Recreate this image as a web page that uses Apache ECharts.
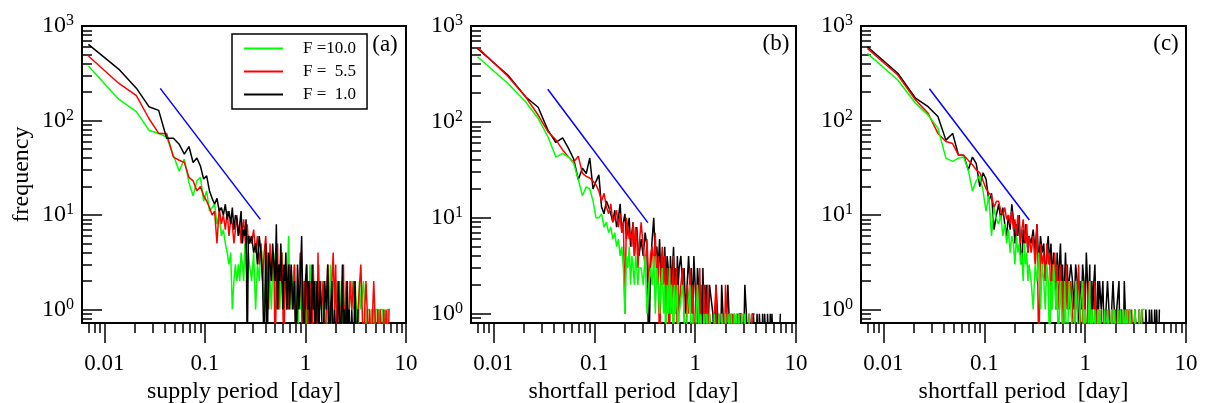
<!DOCTYPE html>
<html><head><meta charset="utf-8">
<script src="https://cdn.jsdelivr.net/npm/echarts@6/dist/echarts.min.js"></script>
<style>html,body{margin:0;padding:0;background:#fff}#c{width:1205px;height:403px}</style>
</head><body><div id="c"></div>
<script>
// ---------------- DATA ----------------
// histogram bins: period in minutes (converted to days for the axis)
const periodMin = [
  10,20,30,40,50,60,70,80,90,100,110,120,130,140,150,160,170,180,190,200,
  210,220,230,240,250,260,270,280,290,300,310,320,330,340,350,360,370,380,390,400,
  420,440,460,480,500,520,540,560,580,600,620,640,660,680,700,720,740,760,780,800,
  820,840,860,880,900,920,940,960,980,1000,
  1040,1080,1120,1160,1200,1240,1280,1320,1360,1400,1440,1480,1520,1560,1600,1640,1680,1720,1760,1800,
  1840,1880,1920,1960,2000,
  2080,2160,2240,2320,2400,2480,2560,2640,2720,2800,2880,2960,3040,3120,3200,3280,3360,3440,3520,3600,
  3680,3760,3840,3920,4000,
  4160,4320,4480,4640,4800,4960,5120,5280,5440,5600,5760,5920,6080,6240,6400,6560,6720,6880,7040,7200,
  7360,7520,7680,7840,8000,8160,8320,8480,8640,8800,8960,9120,9280,9440,9600,9760,9920,10080
];
const seriesNames = ['F =10.0', 'F =  5.5', 'F =  1.0'];

// panel (a) supply period
const greenA = [377,168,124,79,73,67,43,29,39,22,16,23,25,14,18,11,12,13,8,10,6,7,5,4,3,4,1,2,3,2,3,2,4,3,2,5,3,2,4,3,
  2,4,1,3,2,5,3,1,2,4,3,2,1,3,2,4,1,2,3,1,2,4,2,1,3,2,1,3,6,2,
  1,2,3,1,0,2,1,3,1,2,0,1,2,1,3,1,0,2,1,1,2,0,1,3,1,
  2,1,1,0,2,1,3,1,0,1,2,1,1,0,1,2,1,0,1,1,2,1,0,1,1,
  2,1,2,1,0,2,1,1,2,1,0,1,1,1,0,1,1,1,0,1,1,1,1,0,1,1,1,1,0,1,1,1,0,1,1,1,1,1];
const redA = [482,248,183,105,73,73,41,38,36,25,23,18,20,16,14,12,10,11,5,12,8,10,7,11,6,9,8,5,7,10,6,8,5,7,9,6,4,8,5,6,
  5,7,4,6,3,5,2,4,6,3,1,5,2,4,3,0,2,5,1,3,2,4,1,0,2,3,1,2,1,3,
  2,1,3,0,1,2,4,1,0,2,1,3,0,1,2,1,0,3,1,2,1,0,4,1,2,
  1,2,0,1,3,1,0,2,4,1,3,0,1,2,0,1,1,3,0,1,2,1,0,1,2,
  1,2,1,0,1,1,3,1,0,1,2,1,0,1,1,0,1,2,1,1,0,1,1,0,1,1,1,0,1,1,0,1,1,1,0,1,1,1];
const blackA = [640,350,220,140,128,65,65,56,44,53,36,40,33,24,26,18,15,13,15,11,12,10,13,9,11,8,12,7,10,9,6,8,11,5,7,6,9,0,6,5,
  6,4,5,3,6,4,2,0,5,0,4,3,2,5,3,2,8,1,3,2,5,2,1,3,2,4,1,2,3,1,
  3,1,2,0,3,1,2,6,1,0,2,3,1,2,0,1,3,1,2,0,1,2,1,0,2,
  1,0,2,1,3,0,1,2,0,1,1,0,2,1,0,1,3,0,1,0,1,2,0,1,0,
  1,0,2,0,1];

// panel (b) shortfall period
const greenB = [478,253,162,109,70,43,47,43,37,25,17,21,20,15,10,10,11,8,9,7,8,6,7,5,6,4,5,3,1,4,3,5,2,4,3,2,4,3,2,3,
  3,2,4,1,2,3,2,4,1,3,2,1,2,3,1,2,0,2,1,3,1,2,1,0,2,1,1,2,0,1,
  1,2,1,0,1,1,2,0,1,1,0,1,2,1,0,1,1,0,1,1,0,1,1,0,1,
  1,0,1,1,0,1,0,1,1,0,1,1,0,1,0,1,1,0,1,0,1,1,0,1,0,
  1,0,1,1,0,1];
const redB = [600,300,183,118,79,65,51,43,38,44,29,27,26,24,22,19,15,18,13,11,14,9,10,12,8,11,7,9,1,10,8,6,7,5,9,4,8,6,3,5,
  9,5,3,6,2,4,5,3,7,2,4,0,3,5,2,4,1,3,2,0,3,1,2,4,1,2,3,0,2,1,
  2,3,1,0,2,1,3,1,2,0,1,2,1,0,3,1,1,0,2,1,0,1,2,0,1,
  1,0,1,2,0,1,1,0,1,0,2,1,0,1,1,0,1,0,1,1,0,1,0,1,1,
  1,0,1,1,0,1,0,1,1,1];
const blackB = [585,308,183,142,82,61,68,53,41,25,33,29,42,20,24,28,13,11,15,13,11,9,12,8,10,14,7,9,11,6,8,10,5,7,9,4,6,8,5,4,
  6,4,7,5,0,3,6,10,4,5,3,6,2,4,3,5,2,4,3,1,4,2,3,5,2,3,1,4,2,3,
  4,2,3,1,2,4,2,3,1,4,2,1,3,2,1,2,0,3,1,2,1,2,0,1,2,
  2,1,0,2,1,1,0,2,1,1,0,1,2,1,0,1,1,0,1,1,0,1,1,0,1,
  1,0,2,1,0,1,1,0,1,1,0,1,0,1,1,0,1,0,1,1,0,1,1,0,1,0,1,1,0,0,0,0,0,0,0,0,0,1];

// panel (c) shortfall period
const greenC = [514,268,152,114,83,40,37,40,41,30,18,23,26,18,11,16,6,12,9,8,10,6,8,5,7,4,6,5,3,6,4,5,3,4,2,5,3,4,2,3,
  2,1,3,2,4,1,3,2,1,3,2,0,2,1,3,2,1,2,0,1,2,1,1,0,2,1,1,0,1,2,
  1,1,0,2,1,0,1,1,2,0,1,1,0,1,2,0,1,1,0,1,1,0,1,0,1,
  1,0,1,0,1,1,0,1,0,1,1,0,1,0,1,1,0,1,0,1,0,1,1,0,1,
  1,0,1,1,0,1,0,1,1,1];
const redC = [580,303,165,119,73,60,57,43,43,38,34,30,28,23,19,17,16,12,14,14,11,10,12,9,10,8,11,7,9,6,10,8,5,7,9,6,5,8,4,6,
  4,6,3,8,0,5,3,4,2,5,3,4,1,3,2,4,2,3,1,2,3,1,2,0,2,1,3,1,2,1,
  2,1,0,2,1,3,1,0,1,2,1,0,1,2,1,0,1,1,0,2,1,0,1,1,0,
  1,0,1,1,0,1,0,1,1,0,1,0,1,1,0,1,0,1,1,0,1,1,0,1,0,
  1,0,1,1,0,1,0,1];
const blackC = [604,316,172,140,110,62,73,43,43,30,41,35,20,28,24,14,17,7,10,13,9,12,8,6,10,7,13,9,5,8,6,10,4,3,7,5,8,6,4,6,
  5,7,4,8,3,6,4,5,2,4,6,3,5,2,4,3,1,4,2,3,5,2,3,1,2,4,2,3,1,2,
  3,2,1,3,2,0,2,1,3,2,1,4,2,1,3,0,2,1,2,3,1,0,2,1,2,
  1,2,0,1,2,1,0,1,2,1,0,1,1,2,0,1,1,0,2,1,0,1,1,0,1,
  1,0,1,1,0,1,0,1,1,0,1,1,0,1,0,1,1,0,1,0,1,1,0,1];

// reference power-law guide lines (blue)
const blueXA = [0.036, 0.356], blueYA = [219, 9.0];
const blueXB = [0.0346, 0.34], blueYB = [219, 8.9];
const blueXC = [0.0286, 0.28], blueYC = [217, 8.85];

// tick values / labels
const xTickValues = [0.01, 0.1, 1, 10];
const xTickLabels = ['0.01', '0.1', '1', '10'];
const xMinorValues = [0.007,0.008,0.009, 0.02,0.03,0.04,0.05,0.06,0.07,0.08,0.09,
  0.2,0.3,0.4,0.5,0.6,0.7,0.8,0.9, 2,3,4,5,6,7,8,9];
const yTickValues = [1, 10, 100, 1000];
const yTickExponents = ['0', '1', '2', '3'];
const yMinorValues = [0.8,0.9, 2,3,4,5,6,7,8,9, 20,30,40,50,60,70,80,90, 200,300,400,500,600,700,800,900];
const xTitles = ['supply period  [day]', 'shortfall period  [day]', 'shortfall period  [day]'];
const yTitle = 'frequency';
const panelLabels = ['(a)', '(b)', '(c)'];

// ---------------- LAYOUT ----------------
const FONT = 'Liberation Serif';
const TOP = 26, HEIGHT = 297;
const XMIN = 0.006, XMAX = 10, YMAX = 1000;
const ZERO_SHOWN = 0.3; // zero counts fall below the log axis (clipped), as in the original
const panels = [
  { left: 82, width: 324, ymin: 0.72, label: [385, 45],
    series: [['green', greenA, '#00ff00'], ['red', redA, '#ff0000'], ['black', blackA, '#000000']],
    blue: [blueXA, blueYA] },
  { left: 471, width: 325, ymin: 0.8, label: [776, 44],
    series: [['black', blackB, '#000000'], ['red', redB, '#ff0000'], ['green', greenB, '#00ff00']],
    blue: [blueXB, blueYB] },
  { left: 861, width: 325, ymin: 0.72, label: [1166, 44],
    series: [['black', blackC, '#000000'], ['red', redC, '#ff0000'], ['green', greenC, '#00ff00']],
    blue: [blueXC, blueYC] }
];
const nameOf = { green: seriesNames[0], red: seriesNames[1], black: seriesNames[2] };
const lg = Math.log10;
const noLine = { show: false, onZero: false };

const grid = [], xAxis = [], yAxis = [], series = [], graphic = [];
panels.forEach((P, p) => {
  for (let r = 0; r < 3; r++) {
    grid.push({ left: P.left, top: TOP, width: P.width, height: HEIGHT, containLabel: false,
      outerBoundsMode: 'none',
      show: r === 0, borderColor: '#000', borderWidth: 2, backgroundColor: 'transparent' });
  }
  const gi = 3 * p;
  // data axes (log)
  xAxis.push({ type: 'log', gridIndex: gi, min: XMIN, max: XMAX, show: false, logBase: 10, axisLine: noLine });
  yAxis.push({ type: 'log', gridIndex: gi, min: P.ymin, max: YMAX, show: false, logBase: 10, axisLine: noLine });
  // major tick / label axes
  xAxis.push({ type: 'value', gridIndex: gi + 1, min: lg(XMIN), max: lg(XMAX),
    axisLine: noLine, splitLine: { show: false },
    axisTick: { show: true, inside: false, length: 20, customValues: xTickValues.map(lg),
      lineStyle: { color: '#000', width: 1.5 } },
    axisLabel: { show: true, customValues: xTickValues.map(lg), margin: 29,
      fontFamily: FONT, fontSize: 23, color: '#000',
      formatter: v => { const i = xTickValues.findIndex(t => Math.abs(lg(t) - v) < 1e-9); return i >= 0 ? xTickLabels[i] : ''; } },
    name: xTitles[p], nameLocation: 'middle', nameGap: 57,
    nameTextStyle: { fontFamily: FONT, fontSize: 24, color: '#000' } });
  yAxis.push(Object.assign({ type: 'value', gridIndex: gi + 1, min: lg(P.ymin), max: lg(YMAX),
    axisLine: noLine, splitLine: { show: false },
    axisTick: { show: true, inside: true, length: 20, customValues: yTickValues.map(lg),
      lineStyle: { color: '#000', width: 1.5 } },
    axisLabel: { show: true, customValues: yTickValues.map(lg), margin: 8,
      formatter: v => { const i = yTickValues.findIndex(t => Math.abs(lg(t) - v) < 1e-9); return i >= 0 ? '{b|10}{s|' + yTickExponents[i] + '}' : ''; },
      rich: { b: { fontFamily: FONT, fontSize: 24, color: '#000', lineHeight: 26 },
              s: { fontFamily: FONT, fontSize: 16, color: '#000', verticalAlign: 'top', lineHeight: 8 } } } },
    p === 0 ? { name: yTitle, nameLocation: 'middle', nameGap: 48, nameRotate: 90,
      nameTextStyle: { fontFamily: FONT, fontSize: 24, color: '#000' } } : {}));
  // minor tick axes
  xAxis.push({ type: 'value', gridIndex: gi + 2, min: lg(XMIN), max: lg(XMAX),
    axisLine: noLine, splitLine: { show: false }, axisLabel: { show: false },
    axisTick: { show: true, inside: false, length: 10, customValues: xMinorValues.map(lg),
      lineStyle: { color: '#000', width: 1.5 } } });
  yAxis.push({ type: 'value', gridIndex: gi + 2, min: lg(P.ymin), max: lg(YMAX),
    axisLine: noLine, splitLine: { show: false }, axisLabel: { show: false },
    axisTick: { show: true, inside: true, length: 10, customValues: yMinorValues.map(lg),
      lineStyle: { color: '#000', width: 1.5 } } });

  P.series.forEach(([key, vals, color], k) => {
    series.push({ type: 'line', name: nameOf[key], xAxisIndex: gi, yAxisIndex: gi,
      data: vals.map((v, i) => [periodMin[i] / 1440, v === 0 ? ZERO_SHOWN : v]),
      showSymbol: false, symbol: 'none', clip: true, z: 2 + k,
      lineStyle: { color, width: 1.5 }, itemStyle: { color }, animation: false });
  });
  series.push({ type: 'line', name: 'guide', xAxisIndex: gi, yAxisIndex: gi,
    data: P.blue[0].map((x, i) => [x, P.blue[1][i]]), showSymbol: false, symbol: 'none',
    z: 6, lineStyle: { color: '#0000ff', width: 1.5 }, itemStyle: { color: '#0000ff' }, animation: false });

  graphic.push({ type: 'text', x: P.label[0], y: P.label[1], z: 10,
    style: { text: panelLabels[p], fontFamily: FONT, fontSize: 23, fill: '#000',
      textAlign: 'center', textVerticalAlign: 'middle' } });
});

const chart = echarts.init(document.getElementById('c'), null, { renderer: 'canvas' });
chart.setOption({
  backgroundColor: '#fff',
  animation: false,
  grid, xAxis, yAxis, series, graphic,
  legend: { data: seriesNames, orient: 'vertical', left: 232, top: 34,
    padding: [6, 11, 6, 12], itemWidth: 39, itemHeight: 2, itemGap: 6, icon: 'rect',
    borderColor: '#000', borderWidth: 1.5, selectedMode: false,
    formatter: name => '{t|' + name + '}',
    textStyle: { fontFamily: FONT, fontSize: 17, color: '#000',
      rich: { t: { fontFamily: FONT, fontSize: 17, color: '#000', padding: [0, 0, 0, 15] } } } }
});
</script></body></html>
